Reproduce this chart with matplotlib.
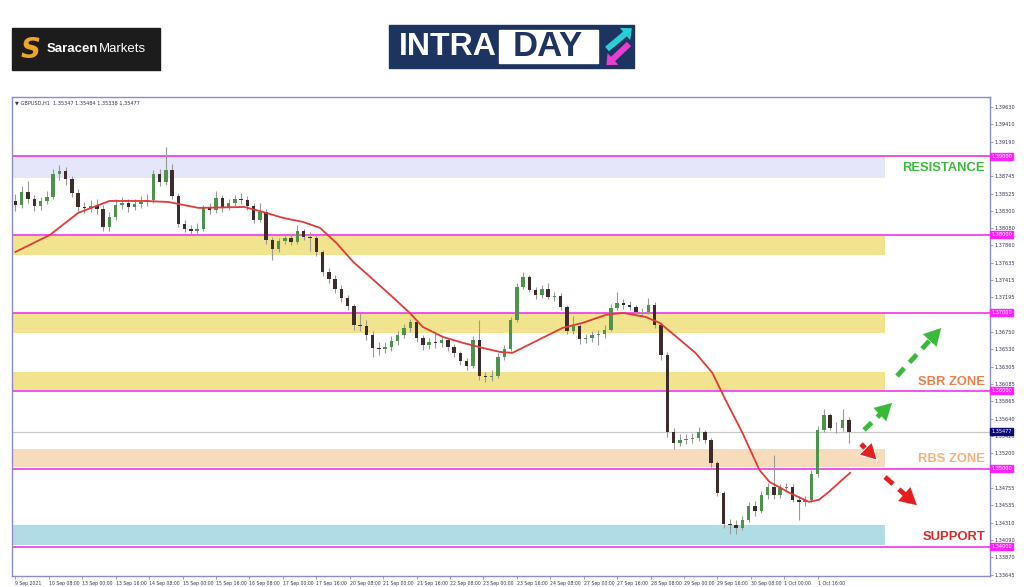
import matplotlib
matplotlib.use("Agg")
import matplotlib.pyplot as plt
from matplotlib.patches import Rectangle, FancyArrow
from matplotlib.transforms import blended_transform_factory

# GBPUSD, candles aggregated to 3 hours
first_open = 1.38430
closes = [
    1.38379, 1.38545, 1.38456, 1.38366, 1.38430, 1.38481, 1.38776, 1.38814, 1.38712, 1.38533,
    1.38353, 1.38341, 1.38366, 1.38328, 1.38097, 1.38225, 1.38379, 1.38405, 1.38353, 1.38392,
    1.38417, 1.38443, 1.38776, 1.38673, 1.38827, 1.38494, 1.38136, 1.38072, 1.38046, 1.38072,
    1.38341, 1.38315, 1.38469, 1.38341, 1.38405, 1.38456, 1.38443, 1.38366, 1.38187, 1.38289,
    1.37931, 1.37816, 1.37918, 1.37957, 1.37905, 1.38046, 1.37969, 1.37957, 1.37777, 1.37521,
    1.37432, 1.37304, 1.37189, 1.37086, 1.36843, 1.36830, 1.36715, 1.36549, 1.36536, 1.36561,
    1.36638, 1.36715, 1.36805, 1.36881, 1.36677, 1.36587, 1.36625, 1.36612, 1.36651, 1.36561,
    1.36485, 1.36382, 1.36318, 1.36651, 1.36190, 1.36177, 1.36190, 1.36433, 1.36536, 1.36907,
    1.37329, 1.37457, 1.37291, 1.37227, 1.37304, 1.37201, 1.37214, 1.37073, 1.36766, 1.36830,
    1.36664, 1.36677, 1.36715, 1.36728, 1.36779, 1.37061, 1.37125, 1.37099, 1.37073, 1.37009,
    1.37009, 1.37099, 1.36843, 1.36459, 1.35473, 1.35333, 1.35371, 1.35384, 1.35397, 1.35473,
    1.35371, 1.35077, 1.34693, 1.34296, 1.34283, 1.34245, 1.34347, 1.34526, 1.34462, 1.34667,
    1.34769, 1.34667, 1.34757, 1.34769, 1.34603, 1.34577, 1.34603, 1.34936, 1.35499, 1.35691,
    1.35525, 1.35525, 1.35627, 1.35477,
]
highs = [
    1.3852, 1.3862, 1.3868, 1.3850, 1.3848, 1.3856, 1.3884, 1.3889, 1.3886, 1.3875,
    1.3858, 1.3842, 1.3844, 1.3845, 1.3838, 1.3829, 1.3845, 1.3848, 1.3846, 1.3846,
    1.3849, 1.3852, 1.3882, 1.3884, 1.3912, 1.3890, 1.3853, 1.3818, 1.3812, 1.3815,
    1.3838, 1.3840, 1.3856, 1.3850, 1.3846, 1.3851, 1.3853, 1.3849, 1.3840, 1.3840,
    1.3833, 1.3797, 1.3796, 1.3801, 1.3800, 1.3812, 1.3807, 1.3803, 1.3800, 1.3780,
    1.3757, 1.3748, 1.3735, 1.3723, 1.3711, 1.3699, 1.3690, 1.3676, 1.3662, 1.3663,
    1.3670, 1.3677, 1.3686, 1.3692, 1.3690, 1.3672, 1.3668, 1.3674, 1.3670, 1.3668,
    1.3660, 1.3651, 1.3642, 1.3670, 1.3691, 1.3624, 1.3626, 1.3648, 1.3658, 1.3695,
    1.3738, 1.3752, 1.3748, 1.3733, 1.3735, 1.3738, 1.3727, 1.3725, 1.3710, 1.3696,
    1.3686, 1.3673, 1.3676, 1.3678, 1.3684, 1.3711, 1.3727, 1.3717, 1.3715, 1.3710,
    1.3706, 1.3719, 1.3713, 1.3688, 1.3650, 1.3552, 1.3544, 1.3544, 1.3546, 1.3554,
    1.3550, 1.3540, 1.3510, 1.3472, 1.3436, 1.3434, 1.3440, 1.3458, 1.3459, 1.3472,
    1.3482, 1.3518, 1.3481, 1.3482, 1.3480, 1.3465, 1.3465, 1.3498, 1.3555, 1.3577,
    1.3572, 1.3560, 1.3577, 1.3566,
]
lows = [
    1.3830, 1.3834, 1.3841, 1.3830, 1.3832, 1.3839, 1.3845, 1.3870, 1.3864, 1.3848,
    1.3830, 1.3827, 1.3829, 1.3826, 1.3804, 1.3805, 1.3818, 1.3833, 1.3829, 1.3831,
    1.3834, 1.3836, 1.3840, 1.3862, 1.3864, 1.3845, 1.3810, 1.3803, 1.3799, 1.3800,
    1.3805, 1.3826, 1.3828, 1.3829, 1.3831, 1.3837, 1.3839, 1.3832, 1.3815, 1.3816,
    1.3788, 1.3768, 1.3778, 1.3788, 1.3786, 1.3788, 1.3793, 1.3779, 1.3772, 1.3747,
    1.3738, 1.3725, 1.3714, 1.3703, 1.3678, 1.3677, 1.3665, 1.3643, 1.3646, 1.3648,
    1.3651, 1.3659, 1.3667, 1.3675, 1.3663, 1.3652, 1.3654, 1.3655, 1.3656, 1.3651,
    1.3643, 1.3633, 1.3626, 1.3629, 1.3614, 1.3611, 1.3613, 1.3616, 1.3640, 1.3651,
    1.3688, 1.3730, 1.3726, 1.3718, 1.3719, 1.3717, 1.3715, 1.3704, 1.3673, 1.3673,
    1.3660, 1.3661, 1.3663, 1.3659, 1.3668, 1.3676, 1.3703, 1.3705, 1.3703, 1.3697,
    1.3696, 1.3698, 1.3680, 1.3640, 1.3541, 1.3525, 1.3529, 1.3532, 1.3533, 1.3536,
    1.3533, 1.3503, 1.3465, 1.3424, 1.3416, 1.3417, 1.3422, 1.3432, 1.3440, 1.3444,
    1.3462, 1.3462, 1.3463, 1.3470, 1.3457, 1.3435, 1.3453, 1.3458, 1.3490, 1.3547,
    1.3550, 1.3546, 1.3549, 1.3533,
]

# moving average, read at some candle positions
ma_pos = [0, 5.5, 10, 15, 20.6, 24.4, 29.2, 36.5, 39.5, 42.7, 45.9, 48.6, 51.2, 53.9,
          56.6, 59.8, 62.9, 65, 68.2, 71.4, 74.5, 77.3, 79.3, 82.5, 87.3, 90.5, 94.2,
          96.9, 100.5, 102.8, 105.1, 108.5, 111.2, 113.3, 116, 118.7, 120.3, 123.5,
          126.6, 128.2, 129.8, 131.9, 133.2]
ma_val = [1.37777, 1.37995, 1.38277, 1.38430, 1.38430, 1.38417, 1.38341, 1.38353,
          1.38289, 1.38213, 1.38161, 1.38085, 1.37893, 1.37649, 1.37457, 1.37227,
          1.36997, 1.36817, 1.36689, 1.36613, 1.36549, 1.36497, 1.36485, 1.36613,
          1.36805, 1.36869, 1.36971, 1.36997, 1.36946, 1.36869, 1.36715, 1.36485,
          1.36229, 1.35883, 1.35461, 1.34987, 1.34834, 1.34693, 1.34578, 1.34603,
          1.34706, 1.34859, 1.34949]

levels = [1.39000, 1.38000, 1.37000, 1.36000, 1.35000, 1.34000]
zone_low = [1.38725, 1.37740, 1.36741, 1.36011, 1.35030, 1.34031]
zone_high = [1.39000, 1.37983, 1.36997, 1.36242, 1.35260, 1.34287]
zone_colors = ["#e6e6fa", "#f2e48e", "#f2e48e", "#f2e48e", "#f7dcbc", "#b0dde5"]
zone_end = 138.7
last_price = 1.35477

price_ticks = [1.39630, 1.39410, 1.39190, 1.38965, 1.38745, 1.38525, 1.38300, 1.38080,
               1.37860, 1.37635, 1.37415, 1.37195, 1.36970, 1.36750, 1.36530, 1.36305,
               1.36085, 1.35865, 1.35640, 1.35420, 1.35200, 1.34975, 1.34755, 1.34535,
               1.34310, 1.34090, 1.33870, 1.33645]
# labels that sit under a level tag are covered in the original
hidden_ticks = [1.38965, 1.36970, 1.34975]
date_labels = ["9 Sep 2021", "10 Sep 08:00", "13 Sep 00:00", "13 Sep 16:00", "14 Sep 08:00",
               "15 Sep 00:00", "15 Sep 16:00", "16 Sep 08:00", "17 Sep 00:00", "17 Sep 16:00",
               "20 Sep 08:00", "21 Sep 00:00", "21 Sep 16:00", "22 Sep 08:00", "23 Sep 00:00",
               "23 Sep 16:00", "24 Sep 08:00", "27 Sep 00:00", "27 Sep 16:00", "28 Sep 08:00",
               "29 Sep 00:00", "29 Sep 16:00", "30 Sep 08:00", "1 Oct 00:00", "1 Oct 16:00"]
hours_per_label = 16
hours_per_candle = 3

fig = plt.figure(figsize=(10.24, 5.87), dpi=100)
fig.patch.set_facecolor("white")
ax = fig.add_axes([11.7 / 1024, 1 - 576 / 587, (990 - 11.7) / 1024, (576 - 97) / 587])

frame = "#8c8cc8"
for s in ax.spines.values():
    s.set_color(frame)
    s.set_linewidth(1)

# zones and levels
for lo, hi, c in zip(zone_low, zone_high, zone_colors):
    ax.add_patch(Rectangle((-1, lo), zone_end + 1, hi - lo, color=c, lw=0, zorder=1))
for lv in levels:
    ax.axhline(lv, color="#ee33ee", lw=1.2, zorder=2)
ax.axhline(last_price, color="#c8c8c8", lw=0.9, zorder=2)

# candles
opens = [first_open] + closes[:-1]
idx = range(len(closes))
ax.vlines(idx, lows, highs, color="#9a9a9a", lw=0.8, zorder=3)
for i, o, c in zip(idx, opens, closes):
    col = "#4c944c" if c >= o else "#3e2c2c"
    h = max(abs(c - o), 0.00003)
    ax.bar(i, h, bottom=min(o, c), width=0.55, color=col, lw=0, zorder=4)

ax.plot(ma_pos, ma_val, color="#e03a3a", lw=1.3, zorder=5)

ax.set_xlim(-0.6, 155.5)
ax.set_ylim(1.33628, 1.39761)

step = hours_per_label / hours_per_candle
ax.set_xticks([j * step for j in range(len(date_labels))])
ax.set_xticklabels(date_labels, fontsize=3.3, color="#333355", ha="left")
ax.yaxis.tick_right()
ax.set_yticks(price_ticks)
ax.set_yticklabels(["" if p in hidden_ticks else f"{p:.5f}" for p in price_ticks],
                   fontsize=3.6, color="#333355")
ax.tick_params(axis="both", length=2, width=0.6, color=frame, pad=1.5)

ax.text(0.003, 0.993, "\u25bc GBPUSD,H1  1.35347 1.35484 1.35338 1.35477", transform=ax.transAxes,
        fontsize=3.6, color="#333355", va="top", ha="left")

tr = blended_transform_factory(ax.transAxes, ax.transData)
for lv in levels:
    ax.text(1.0012, lv, f"{lv:.5f}", transform=tr, fontsize=3.6, color="white", va="center",
            ha="left", zorder=10, clip_on=False,
            bbox=dict(boxstyle="square,pad=0.2", fc="#ff22ff", ec="#ff22ff"))
ax.text(1.0012, last_price, f"{last_price:.5f}", transform=tr, fontsize=3.6, color="white",
        va="center", ha="left", zorder=10, clip_on=False,
        bbox=dict(boxstyle="square,pad=0.2", fc="#0a0a7a", ec="#0a0a7a"))

# overlay in pixel coordinates for logos and annotations
ov = fig.add_axes([0, 0, 1, 1], zorder=5)
ov.set_xlim(0, 1024)
ov.set_ylim(587, 0)
ov.axis("off")
ov.patch.set_alpha(0)

# Saracen logo
ov.add_patch(Rectangle((12, 28), 148, 42, color="#1c1c1c"))
ov.text(31, 50, "S", fontsize=20, fontweight="bold", style="italic", color="#eda726",
        ha="center", va="center", family="DejaVu Sans")
t1 = ov.text(47, 49, "Saracen", fontsize=9.5, fontweight="bold", color="white", va="center",
             family="Liberation Sans")
ov.annotate("Markets", xy=(1, 0.5), xycoords=t1, fontsize=9.5, color="white", va="center",
            ha="left", family="Liberation Sans")

# INTRADAY logo
ov.add_patch(Rectangle((389, 25), 245, 43, color="#1d3461"))
ov.add_patch(Rectangle((499, 30), 99, 33, color="white"))
ov.text(448, 47, "INTRA", fontsize=23, fontweight="bold", color="white", va="center",
        ha="center", family="Liberation Sans")
ov.text(548, 47, "DAY", fontsize=25, fontweight="bold", color="#1d3461", va="center",
        ha="center", family="Liberation Sans")
ov.add_patch(FancyArrow(607, 49, 18, -15, width=6, head_width=16, head_length=9,
                        color="#27cfd6", lw=0))
ov.add_patch(FancyArrow(629, 44, -16, 15, width=6, head_width=16, head_length=9,
                        color="#e83fd2", lw=0))

# zone captions
labels = [("RESISTANCE", 168, "#3dba3d"), ("SBR ZONE", 382, "#e8824a"),
          ("RBS ZONE", 459, "#f5b37c"), ("SUPPORT", 537, "#d92a2a")]
for txt, y, c in labels:
    ov.text(985, y, txt, fontsize=9.4, fontweight="bold", color=c, ha="right", va="center",
            family="Liberation Sans")


def dashed_arrow(tail, tip, color, edge=None):
    dx, dy = tip[0] - tail[0], tip[1] - tail[1]
    n = (dx ** 2 + dy ** 2) ** 0.5
    ux, uy = dx / n, dy / n
    end = (tip[0] - ux * 10, tip[1] - uy * 10)
    ov.plot([tail[0], end[0]], [tail[1], end[1]], color=color, lw=3.5,
            dashes=(2.2, 1.6), solid_capstyle="butt", dash_capstyle="butt")
    ov.annotate("", xy=tip, xytext=(tip[0] - ux * 12, tip[1] - uy * 12),
                arrowprops=dict(arrowstyle="-|>,head_length=1.0,head_width=0.55",
                                mutation_scale=12, lw=0.8 if edge else 0.1,
                                fc=color, ec=edge or color))


dashed_arrow((897, 376), (943, 326), "#39b939")
dashed_arrow((864, 430), (894, 401), "#39b939")
dashed_arrow((861, 444), (880, 463), "#e3201f", edge="white")
dashed_arrow((885, 477), (919, 507), "#e3201f")

fig.savefig("out.png", dpi=100, facecolor="white")
